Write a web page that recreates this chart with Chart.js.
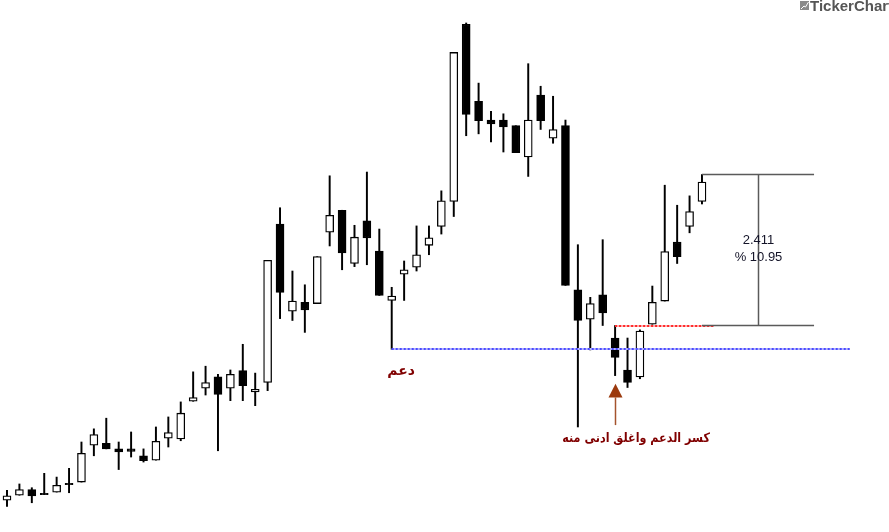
<!DOCTYPE html>
<html>
<head>
<meta charset="utf-8">
<script src="https://cdn.jsdelivr.net/npm/chart.js@4.4.0/dist/chart.umd.min.js"></script>
<style>
  html, body { margin: 0; padding: 0; background: #fff; }
  #wrap { width: 889px; height: 532px; }
</style>
</head>
<body>
<div id="wrap"><canvas id="chart" width="889" height="532"></canvas></div>
<script>
// daily candles, oldest first
const opens = [
  19.22, 19.30, 19.39, 19.33, 19.35, 19.49, 19.51, 20.10, 20.13, 20.04,
  20.04, 19.93, 19.86, 20.21, 20.20, 20.80, 21.01, 21.19, 21.01, 21.29,
  20.95, 21.10, 23.63, 22.24, 22.38, 22.36, 23.50, 23.85, 23.00, 23.68,
  23.20, 22.41, 22.83, 22.94, 23.29, 23.59, 23.99, 26.82, 25.59, 25.29,
  25.29, 25.20, 24.70, 25.69, 25.00, 25.20, 22.58, 22.11, 22.50, 21.81,
  21.30, 21.19, 22.03, 22.40, 23.34, 23.59, 23.99
];
const highs = [
  19.38, 19.48, 19.42, 19.65, 19.59, 19.73, 20.15, 20.36, 20.53, 20.15,
  20.31, 20.04, 20.39, 20.55, 20.79, 21.27, 21.36, 21.23, 21.30, 21.71,
  21.25, 23.05, 23.89, 22.88, 22.66, 23.11, 24.40, 23.85, 23.61, 24.46,
  23.55, 22.62, 23.04, 23.60, 23.60, 24.16, 26.37, 26.84, 25.88, 25.43,
  25.39, 25.20, 26.19, 25.83, 25.67, 25.29, 23.30, 22.46, 23.38, 22.01,
  21.81, 21.94, 22.64, 24.25, 23.93, 24.08, 24.42
];
const lows = [
  19.12, 19.30, 19.18, 19.31, 19.35, 19.34, 19.51, 19.93, 20.04, 19.71,
  19.91, 19.83, 19.86, 20.07, 20.17, 20.80, 20.90, 20.01, 20.81, 20.81,
  20.73, 20.97, 22.12, 22.09, 21.90, 22.36, 23.28, 22.90, 22.95, 22.98,
  22.49, 21.63, 22.41, 22.88, 23.14, 23.47, 23.75, 25.04, 25.07, 24.94,
  24.78, 24.77, 24.39, 25.14, 24.92, 22.65, 20.39, 21.62, 22.01, 21.21,
  21.02, 21.16, 22.03, 22.40, 23.00, 23.49, 23.95
];
const closes = [
  19.29, 19.39, 19.29, 19.31, 19.46, 19.47, 19.97, 20.27, 20.04, 19.99,
  20.00, 19.85, 20.16, 20.30, 20.61, 20.86, 21.10, 20.91, 21.23, 21.05,
  20.99, 23.05, 22.54, 22.40, 22.26, 23.11, 23.77, 23.17, 23.42, 23.41,
  22.49, 22.48, 22.90, 23.14, 23.41, 24.00, 26.37, 25.38, 25.28, 25.23,
  25.18, 24.77, 25.29, 25.28, 25.14, 22.65, 22.09, 22.36, 22.21, 21.50,
  21.10, 21.92, 22.38, 23.19, 23.11, 23.83, 24.30
];

// drawings on the chart
const supportLevel = 21.63;   // دعم
const supportFrom = 31, supportTo = 67.9;
const breakLevel = 22.01;     // red dotted
const breakFrom = 49, breakTo = 56.97;
const measureTop = 24.429, measureBottom = 22.018;
const measureFrom = 56, measureTo = 65.03, measureAt = 60.52;
const measureLabel = ["2.411", "% 10.95"];
const supportLabel = "دعم";
const noteLabel = "كسر الدعم واغلق ادنى منه";
const arrowAt = 49;

const idx = opens.map((_, i) => i);
const wicks = idx.map(i => ({ x: i, y: [lows[i], highs[i]] }));
const bodies = idx.map(i => ({ x: i, y: [opens[i], closes[i]] }));
const bodyColors = idx.map(i => closes[i] >= opens[i] ? "#ffffff" : "#000000");

function hline(ctx, x1, x2, y, color, width, dash) {
  ctx.save();
  ctx.strokeStyle = color;
  ctx.lineWidth = width;
  ctx.setLineDash(dash || []);
  ctx.beginPath();
  ctx.moveTo(x1, y);
  ctx.lineTo(x2, y);
  ctx.stroke();
  ctx.restore();
}

// dotted line the way the terminal draws it: pale band with darker dots
function dotted(ctx, x1, x2, y, pale, dark) {
  hline(ctx, x1, x2, y, pale, 2);
  hline(ctx, x1, x2, y, dark, 2, [2, 2]);
}

const overlay = {
  id: "overlay",
  afterDatasetsDraw(chart) {
    const { ctx, scales: { x, y } } = chart;

    // support line + label
    dotted(ctx, x.getPixelForValue(supportFrom), x.getPixelForValue(supportTo),
      Math.round(y.getPixelForValue(supportLevel)), "#b4b4ff", "#4a4aff");
    ctx.save();
    ctx.fillStyle = "#800000";
    ctx.font = "bold 14px 'DejaVu Sans'";
    ctx.textAlign = "center";
    ctx.textBaseline = "middle";
    ctx.fillText(supportLabel, x.getPixelForValue(31.75), y.getPixelForValue(21.28));
    ctx.restore();

    // red dotted from the breakdown candle
    dotted(ctx, x.getPixelForValue(breakFrom), x.getPixelForValue(breakTo),
      Math.round(y.getPixelForValue(breakLevel)), "#ffb0b0", "#ff2a2a");

    // measure tool
    const mx1 = x.getPixelForValue(measureFrom), mx2 = x.getPixelForValue(measureTo);
    const yTop = Math.round(y.getPixelForValue(measureTop)) + 0.5;
    const yBot = Math.round(y.getPixelForValue(measureBottom)) + 0.5;
    hline(ctx, mx1, mx2, yTop, "#5a5a5a", 1.5);
    hline(ctx, mx1, mx2, yBot, "#5a5a5a", 1.5);
    const mx = Math.round(x.getPixelForValue(measureAt)) + 0.5;
    ctx.save();
    ctx.strokeStyle = "#5a5a5a";
    ctx.lineWidth = 1.5;
    ctx.beginPath();
    ctx.moveTo(mx, yTop);
    ctx.lineTo(mx, yBot);
    ctx.stroke();
    ctx.fillStyle = "#141428";
    ctx.font = "13px 'Liberation Sans'";
    ctx.textAlign = "center";
    ctx.textBaseline = "middle";
    ctx.fillText(measureLabel[0], mx, y.getPixelForValue(23.37));
    ctx.fillText(measureLabel[1], mx, y.getPixelForValue(23.10));
    ctx.restore();

    // arrow under the breakdown candle
    const ax = Math.round(x.getPixelForValue(arrowAt)) + 0.5;
    const tip = y.getPixelForValue(21.08), base = y.getPixelForValue(20.86), tail = y.getPixelForValue(20.42);
    ctx.save();
    ctx.strokeStyle = "#a4532c";
    ctx.lineWidth = 1.5;
    ctx.beginPath();
    ctx.moveTo(ax, base);
    ctx.lineTo(ax, tail);
    ctx.stroke();
    ctx.fillStyle = "#9b3a0e";
    ctx.beginPath();
    ctx.moveTo(ax, tip);
    ctx.lineTo(ax - 7, base);
    ctx.lineTo(ax + 7, base);
    ctx.closePath();
    ctx.fill();
    ctx.restore();

    ctx.save();
    ctx.fillStyle = "#800000";
    ctx.font = "bold 13px 'DejaVu Sans'";
    ctx.textAlign = "center";
    ctx.textBaseline = "middle";
    ctx.translate(x.getPixelForValue(50.69), y.getPixelForValue(20.21));
    ctx.scale(0.86, 1);
    ctx.fillText(noteLabel, 0, 0);
    ctx.restore();

    // logo, cut by the right edge like the original
    ctx.save();
    ctx.fillStyle = "#8a8a8a";
    ctx.fillRect(800, 1, 9, 9);
    ctx.strokeStyle = "#fff";
    ctx.lineWidth = 1;
    ctx.beginPath();
    ctx.moveTo(801, 9);
    ctx.lineTo(804, 6);
    ctx.lineTo(805.5, 7);
    ctx.lineTo(808.5, 2);
    ctx.stroke();
    ctx.fillStyle = "#555555";
    ctx.font = "bold 15px 'Liberation Sans'";
    ctx.textBaseline = "alphabetic";
    ctx.fillText("TickerChart", 810, 11);
    ctx.restore();
  }
};

new Chart(document.getElementById("chart"), {
  type: "bar",
  data: {
    datasets: [
      {
        label: "body",
        data: bodies,
        order: 0,
        grouped: false,
        barThickness: 8,
        backgroundColor: bodyColors,
        borderColor: "#000000",
        borderWidth: 1.3,
        borderSkipped: false
      },
      {
        label: "wick",
        data: wicks,
        order: 1,
        grouped: false,
        barThickness: 1.3,
        backgroundColor: "#000000",
        borderWidth: 0
      }
    ]
  },
  options: {
    responsive: false,
    animation: false,
    layout: { padding: 0 },
    plugins: {
      legend: { display: false },
      tooltip: { enabled: false }
    },
    scales: {
      x: { type: "linear", display: false, min: -0.564, max: 71.07, offset: false },
      y: { display: false, min: 18.713, max: 27.207 }
    }
  },
  plugins: [overlay]
});
</script>
</body>
</html>
